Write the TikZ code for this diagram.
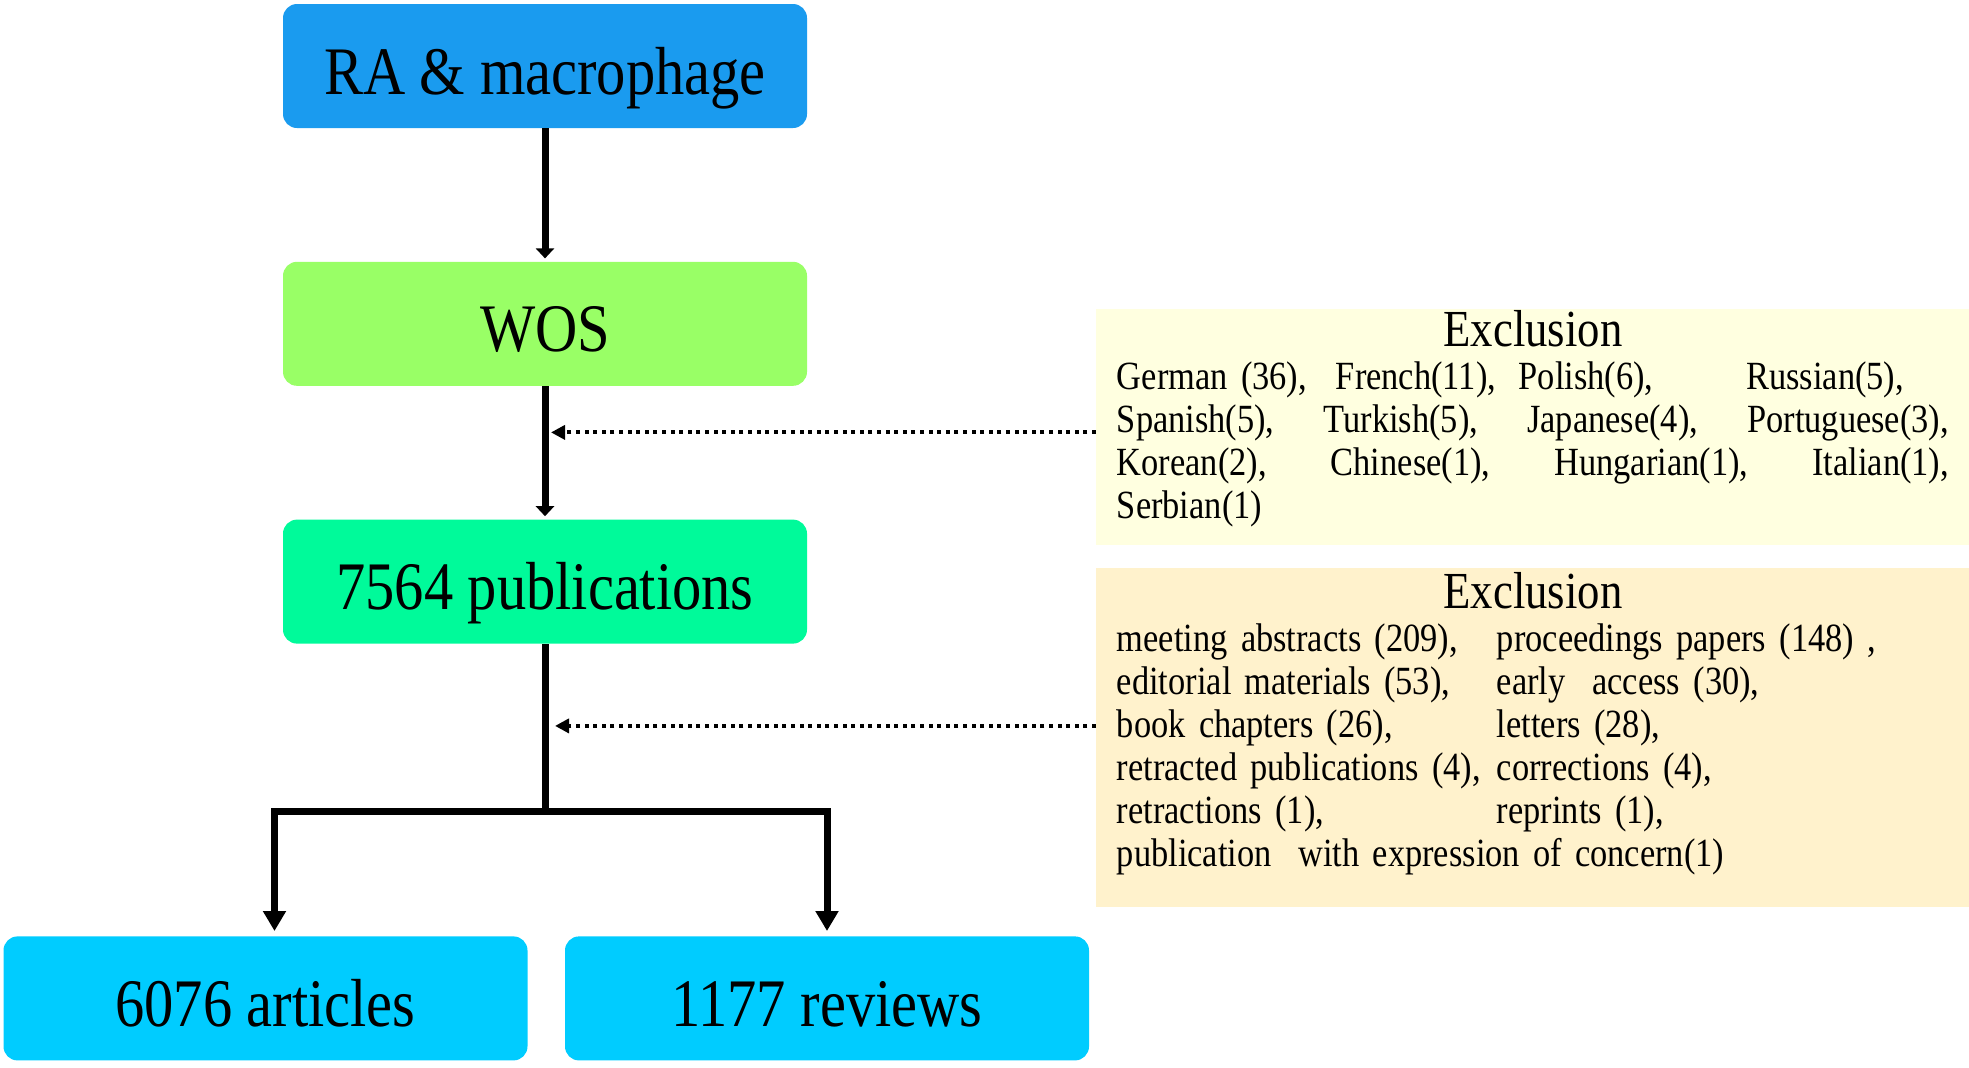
\documentclass[tikz,border=0pt]{standalone}
\usepackage{fontspec}
\setmainfont[FakeStretch=0.86]{Liberation Serif}
\usepackage{tikz}
\usetikzlibrary{arrows.meta,positioning,calc}
\definecolor{raBlue}{HTML}{1A9BEF}
\definecolor{wosGreen}{HTML}{99FF66}
\definecolor{pubGreen}{HTML}{00FA9A}
\definecolor{outCyan}{HTML}{00CCFF}
\definecolor{exYellow}{HTML}{FFFFE0}
\definecolor{exWheat}{HTML}{FFF2CC}

\begin{document}
\begin{tikzpicture}[
  x=0.5pt, y=-0.5pt,
  node distance=66.5pt and 20pt,
  stage/.style={rounded corners=7pt, minimum width=262pt, minimum height=62pt, inner sep=0pt, text height=28pt, text depth=0pt, align=center, font=\fontsize{34}{40}\selectfont},
  excl/.style ={anchor=north west, minimum width=436.5pt, text width=416pt, inner xsep=9pt, inner ysep=0pt, font=\fontsize{20}{21.5}\selectfont},
  flow/.style ={line width=3.5pt, -{Triangle[length=5pt,width=9pt]}},
  split/.style={line width=3.5pt, -{Triangle[length=10pt,width=11pt]}},
  drop/.style ={line width=2pt, dash pattern=on 2pt off 2.3pt, -{Triangle[length=7pt,width=7pt]}},
]
  \useasboundingbox (0,0) rectangle (1969,1067);

  \node[stage, fill=raBlue]   (ra)  at (545,66)                          {RA \& macrophage};
  \node[stage, fill=wosGreen, below=of ra]                       (wos) {WOS};
  \node[stage, fill=pubGreen, below=of wos]                      (pub) {7564 publications};
  \node[stage, fill=outCyan,  below=146pt of pub, xshift=-139.75pt] (art) {6076 articles};
  \node[stage, fill=outCyan,  below=146pt of pub, xshift=141pt]     (rev) {1177 reviews};

  \node[excl, fill=exYellow, minimum height=118pt] (ex1) at (1096,309) {%
    {\centering\fontsize{26}{30}\selectfont Exclusion\par}
    \hbox to\linewidth{German (36),\hspace{14.5pt}French(11),\hspace{11.3pt}Polish(6),\hfill Russian(5),\hspace{22.5pt}}
    \hbox to\linewidth{Spanish(5),\hfill Turkish(5),\hfill Japanese(4),\hfill Portuguese(3),}
    \hbox to\linewidth{Korean(2),\hfill Chinese(1),\hfill Hungarian(1),\hfill Italian(1),}
    \hbox{Serbian(1)}
    \par\kern8.6pt};

  \node[excl, fill=exWheat, minimum height=169.5pt] (ex2) at (1096,568) {%
    {\centering\fontsize{26}{30}\selectfont Exclusion\par}
    \begin{tabular}[t]{@{}p{190pt}@{}l@{}}
      meeting abstracts (209),     & proceedings papers (148) ,\\
      editorial materials (53),    & early\ \ access (30),\\
      book chapters (26),          & letters (28),\\
      retracted publications (4),  & corrections (4),\\
      retractions (1),             & reprints (1),\\
      \multicolumn{2}{@{}l@{}}{publication\ \ with expression of concern(1)}
    \end{tabular}
    \par\kern12pt};

  \draw[flow, shorten >=1.5pt] (ra.south) -- (wos.north);
  \draw[flow, shorten >=1.5pt] (wos.south) -- (pub.north);
  \draw[line width=3.5pt] (pub.south) -- ++(0,167) coordinate (fork);
  \draw[split, shorten >=2.5pt] (fork) -| ([xshift=4.5pt]art.north);
  \draw[split, shorten >=2.5pt] (fork) -| (rev.north);

  \draw[drop, shorten >=3pt] ([yshift=-2.5pt]ex1.west) -- ([yshift=-2.5pt]ex1.west -| wos.south);
  \draw[drop, shorten >=5pt] ([yshift=6pt]ex2.west) -- ([yshift=6pt]ex2.west -| pub.south);
\end{tikzpicture}
\end{document}
